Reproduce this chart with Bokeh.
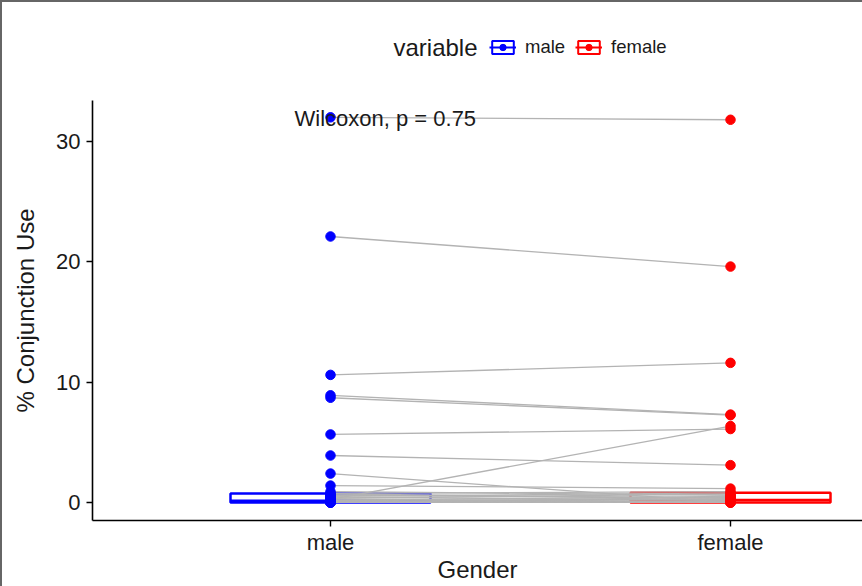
import math
from bokeh.plotting import figure
from bokeh.layouts import column
from bokeh.models import Range1d, FixedTicker, Legend, LegendItem, Label, ColumnDataSource
from bokeh.embed import file_html
from bokeh.resources import INLINE

# ---- data ----
categories = ["male", "female"]
male_vals = [32.0, 22.1, 10.6, 8.9, 8.7, 5.65, 3.9, 2.4, 1.4, 0.25,
             0.9, 0.75, 0.6, 0.5, 0.45, 0.35, 0.3, 0.2, 0.15, 0.1,
             0.05, 0.0, 0.0, 0.0, 0.0, 0.0, 0.7, 0.0]
female_vals = [31.8, 19.6, 11.6, 7.3, 7.25, 6.1, 3.1, 0.0, 1.15, 6.35,
               0.6, 0.9, 0.4, 0.8, 0.2, 0.7, 0.0, 0.5, 0.3, 0.0,
               0.25, 0.15, 0.0, 0.45, 0.1, 0.0, 0.35, 0.05]
# box stats: q1, median, q3, lower whisker, upper whisker
male_box = [0.0, 0.15, 0.75, 0.0, 1.4]
female_box = [0.0, 0.2, 0.8, 0.0, 1.2]
y_ticks = [0, 10, 20, 30]
annotation = "Wilcoxon, p = 0.75"
legend_title = "variable"

FONT = "Liberation Sans"
TXT = "#1a1a1a"
colors = {"male": "#0000FF", "female": "#FF0000"}
pos = {c: i + 1 for i, c in enumerate(categories)}

# ---------------- main plot ----------------
p = figure(width=860, height=486, x_range=Range1d(0.405, 2.33), y_range=Range1d(-1.5, 33.4),
           output_backend="svg", toolbar_location=None,
           min_border_left=90, min_border_right=0, min_border_top=0, min_border_bottom=66)
p.outline_line_color = None
p.xgrid.visible = False
p.ygrid.visible = False

half = 0.25
for cat, stats in [("male", male_box), ("female", female_box)]:
    col = colors[cat]
    x = pos[cat]
    src = ColumnDataSource(dict(left=[x - half], right=[x + half], q1=[stats[0]], q3=[stats[2]],
                                med=[stats[1]], lo=[stats[3]], hi=[stats[4]], x=[x]))
    p.segment(x0="x", y0="q3", x1="x", y1="hi", source=src, line_color=col, line_width=2.5)
    p.segment(x0="x", y0="lo", x1="x", y1="q1", source=src, line_color=col, line_width=2.5)
    p.quad(left="left", right="right", bottom="q1", top="q3", source=src,
           fill_color="white", line_color=col, line_width=2.5)
    p.segment(x0="left", y0="med", x1="right", y1="med", source=src, line_color=col, line_width=2.5)

pair_src = ColumnDataSource(dict(x0=[pos["male"]] * len(male_vals), y0=male_vals,
                                 x1=[pos["female"]] * len(female_vals), y1=female_vals))
p.segment(x0="x0", y0="y0", x1="x1", y1="y1", source=pair_src, line_color="#b3b3b3", line_width=1.3)

p.scatter(x=[pos["male"]] * len(male_vals), y=male_vals, size=9.5, color=colors["male"])
p.scatter(x=[pos["female"]] * len(female_vals), y=female_vals, size=9.5, color=colors["female"])

for ax in (p.xaxis[0], p.yaxis[0]):
    ax.axis_line_color = "black"
    ax.axis_line_width = 1.6
    ax.major_tick_line_color = "black"
    ax.major_tick_line_width = 1.4
    ax.major_tick_out = 6
    ax.major_tick_in = 0
    ax.minor_tick_line_color = None
    ax.major_label_text_font = FONT
    ax.major_label_text_font_size = "22px"
    ax.major_label_text_color = TXT
    ax.axis_label_text_font = FONT
    ax.axis_label_text_font_size = "24px"
    ax.axis_label_text_font_style = "normal"
    ax.axis_label_text_color = TXT

p.xaxis.ticker = FixedTicker(ticks=[pos[c] for c in categories])
p.xaxis.major_label_overrides = {pos[c]: c for c in categories}
p.xaxis.axis_label = "Gender"
p.xaxis.major_label_standoff = 3
p.xaxis.axis_label_standoff = -2
p.yaxis.ticker = FixedTicker(ticks=y_ticks)
p.yaxis.axis_label = "% Conjunction Use"
p.yaxis.major_label_standoff = 6
p.yaxis.axis_label_standoff = 14

p.add_layout(Label(x=0.91, y=31.9, text=annotation, text_font=FONT, text_font_size="22px",
                   text_baseline="middle", text_align="left", text_color=TXT))

# ---------------- legend strip ----------------
top = figure(width=860, height=98, x_range=Range1d(0, 1), y_range=Range1d(0, 1),
             output_backend="svg", toolbar_location=None, x_axis_type=None, y_axis_type=None,
             min_border_left=0, min_border_right=0, min_border_top=0, min_border_bottom=0)
top.outline_line_color = None
top.xgrid.visible = False
top.ygrid.visible = False

nan = float("nan")
items = []
for cat in categories:
    col = colors[cat]
    dummy = ColumnDataSource(dict(x=[nan], y=[nan], l=[nan], r=[nan], b=[nan], t=[nan]))
    r_wh = top.scatter(x="x", y="y", source=dummy, marker="dash", angle=math.pi / 2, size=28,
                       line_color=col, line_width=2)
    r_box = top.quad(left="l", right="r", bottom="b", top="t", source=dummy,
                     fill_color="white", line_color=col, line_width=2)
    r_med = top.segment(x0="l", y0="b", x1="r", y1="t", source=dummy, line_color=col, line_width=2)
    r_pt = top.scatter(x="x", y="y", source=dummy, size=8, color=col)
    items.append(LegendItem(label=cat, renderers=[r_wh, r_box, r_med, r_pt]))

# the strip's frame is aligned with the main frame (starts 90px in)
legend = Legend(items=items, location=(397, 42), orientation="horizontal", padding=0, margin=0,
                border_line_alpha=0, background_fill_alpha=0, glyph_width=27, glyph_height=16,
                label_standoff=9, spacing=10, label_text_font=FONT, label_text_font_size="18.5px",
                label_text_color=TXT)
top.add_layout(legend)
top.add_layout(Label(x=301, y=53, x_units="screen", y_units="screen", text=legend_title,
                     text_font=FONT, text_font_size="24px", text_baseline="middle", text_color=TXT))

layout = column(top, p, spacing=0,
                styles={"border-left": "2px solid #666666", "border-top": "2px solid #666666"})

open("out.html", "w").write(file_html(layout, INLINE))
